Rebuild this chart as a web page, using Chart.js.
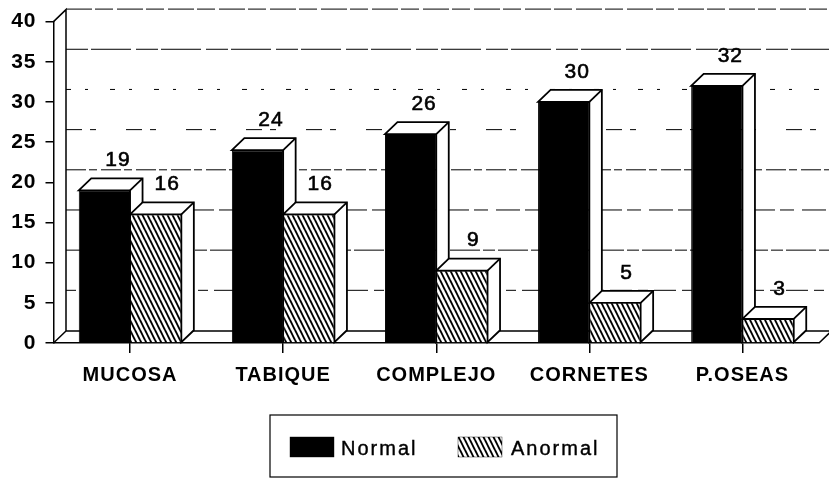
<!DOCTYPE html>
<html>
<head>
<meta charset="utf-8">
<style>html,body{margin:0;padding:0;background:#fff}canvas{display:block}</style>
<script src="https://cdn.jsdelivr.net/npm/chart.js@4/dist/chart.umd.js"></script>
</head>
<body>
<div style="width:829px;height:478px"><canvas id="c" width="829" height="478"></canvas></div>
<script>
const categories = ["MUCOSA", "TABIQUE", "COMPLEJO", "CORNETES", "P.OSEAS"];
const normalValues = [19, 24, 26, 30, 32];
const anormalValues = [16, 16, 9, 5, 3];
const seriesNames = ["Normal", "Anormal"];

const DEPTH_X = 12.5, DEPTH_Y = 12;
const FONT = '"Liberation Sans", Arial, sans-serif';

function hatch() {
  const t = document.createElement('canvas');
  t.width = 5; t.height = 10;
  const g = t.getContext('2d');
  g.fillStyle = '#fff'; g.fillRect(0, 0, 5, 10);
  g.strokeStyle = '#000'; g.lineWidth = 1.9;
  for (const o of [-5, 0, 5]) {
    g.beginPath(); g.moveTo(o, 0); g.lineTo(o + 5, 10); g.stroke();
    g.beginPath(); g.moveTo(o, -10); g.lineTo(o + 5, 0); g.stroke();
    g.beginPath(); g.moveTo(o, 10); g.lineTo(o + 5, 20); g.stroke();
  }
  return t.getContext('2d').createPattern(t, 'repeat');
}
const hatchFill = hatch();

const wallDash = {40:[26,3,18,4], 35:[22,3,40,5], 30:[5,14,3,22], 25:[16,8,6,30], 20:[20,3,8,4], 15:[14,8,24,5], 10:[30,3,12,3], 5:[10,6,22,6]};

const threeD = {
  id: 'threeD',
  beforeDraw(chart) { chart.ctx.letterSpacing = '1px'; },
  beforeDatasetsDraw(chart) {
    const {ctx, chartArea: a, scales: {y}} = chart;
    const zero = y.getPixelForValue(0), top = y.getPixelForValue(40);
    ctx.save();
    ctx.letterSpacing = '0px';
    ctx.strokeStyle = '#000';
    // back wall grid lines
    ctx.lineWidth = 1;
    y.ticks.forEach(t => {
      if (t.value === 0) return;
      const py = y.getPixelForValue(t.value) - DEPTH_Y - 0.5;
      ctx.setLineDash(wallDash[t.value] || [8, 4]);
      ctx.beginPath(); ctx.moveTo(a.left + DEPTH_X, py); ctx.lineTo(a.right + DEPTH_X, py); ctx.stroke();
    });
    ctx.setLineDash([]);
    ctx.lineWidth = 1.5;
    ctx.beginPath();
    ctx.moveTo(a.left, top); ctx.lineTo(a.left + DEPTH_X, top - DEPTH_Y);
    ctx.lineTo(a.left + DEPTH_X, zero - DEPTH_Y); ctx.lineTo(a.right + DEPTH_X, zero - DEPTH_Y);
    ctx.lineTo(a.right, zero);
    ctx.moveTo(a.left, zero); ctx.lineTo(a.left + DEPTH_X, zero - DEPTH_Y);
    ctx.stroke();
    // bar depth faces
    [0, 1].forEach(i => {
      chart.getDatasetMeta(i).data.forEach(b => {
        const l = b.x - b.width / 2, r = b.x + b.width / 2, t = b.y, bt = b.base;
        ctx.fillStyle = '#fff';
        ctx.lineWidth = 1.8;
        ctx.beginPath();
        ctx.moveTo(l, t); ctx.lineTo(l + DEPTH_X, t - DEPTH_Y); ctx.lineTo(r + DEPTH_X, t - DEPTH_Y);
        ctx.lineTo(r + DEPTH_X, bt - DEPTH_Y); ctx.lineTo(r, bt); ctx.lineTo(r, t); ctx.closePath();
        ctx.fill(); ctx.stroke();
        ctx.beginPath(); ctx.moveTo(r, t); ctx.lineTo(r + DEPTH_X, t - DEPTH_Y); ctx.stroke();
      });
    });
    ctx.restore();
  },
  afterDatasetsDraw(chart) {
    const {ctx} = chart;
    ctx.save();
    ctx.letterSpacing = '1px';
    ctx.fillStyle = '#000';
    ctx.font = '21px ' + FONT;
    ctx.lineWidth = 0.6; ctx.strokeStyle = '#000';
    ctx.textAlign = 'center'; ctx.textBaseline = 'middle';
    chart.data.datasets.forEach((ds, i) => {
      chart.getDatasetMeta(i).data.forEach((b, j) => {
        const s = String(ds.data[j]);
        const px = b.x + DEPTH_X + (i ? -1 : 1), py = b.y - 30;
        ctx.fillText(s, px, py); ctx.strokeText(s, px, py);
      });
    });
    // legend
    const box = {l: 270, t: 415, r: 617, b: 477};
    ctx.lineWidth = 1.2;
    ctx.strokeRect(box.l, box.t, box.r - box.l, box.b - box.t);
    const sw = [{x: 290, tx: 341}, {x: 458, tx: 511}];
    ctx.letterSpacing = '2px';
    ctx.textAlign = 'left';
    ctx.font = '20px ' + FONT;
    ctx.lineWidth = 0.4;
    chart.data.datasets.forEach((ds, i) => {
      ctx.fillStyle = ds.backgroundColor;
      ctx.fillRect(sw[i].x, 437, 44, 20);
      ctx.strokeRect(sw[i].x, 437, 44, 20);
      ctx.fillStyle = '#000';
      ctx.fillText(ds.label, sw[i].tx, 449);
      ctx.strokeText(ds.label, sw[i].tx, 449);
    });
    ctx.restore();
  }
};

new Chart(document.getElementById('c'), {
  type: 'bar',
  data: {
    labels: categories,
    datasets: [
      {label: seriesNames[0], data: normalValues, backgroundColor: '#000', borderColor: '#000', borderWidth: 1},
      {label: seriesNames[1], data: anormalValues, backgroundColor: hatchFill, borderColor: '#000', borderWidth: 1}
    ]
  },
  plugins: [threeD],
  options: {
    responsive: false,
    animation: false,
    layout: {padding: {top: 20, right: 10, left: 0, bottom: 0}},
    plugins: {legend: {display: false}, tooltip: {enabled: false}},
    datasets: {bar: {categoryPercentage: 0.67, barPercentage: 1}},
    scales: {
      x: {
        afterFit(s) { s.height = 135; },
        grid: {offset: false, drawOnChartArea: false, drawTicks: true, tickLength: 10, color: '#000', lineWidth: 1.5},
        border: {color: '#000', width: 1.5},
        ticks: {color: '#000', font: {family: FONT, size: 20, weight: 'bold'}, padding: 10, maxRotation: 0, autoSkip: false}
      },
      y: {
        min: 0, max: 40,
        afterFit(s) { s.width = 53.5; },
        grid: {drawOnChartArea: false, drawTicks: true, tickLength: 8, color: '#000', lineWidth: 1.5},
        border: {color: '#000', width: 1.5},
        ticks: {stepSize: 5, color: '#000', font: {family: FONT, size: 21, weight: 'bold'}, padding: 9}
      }
    }
  }
});
</script>
</body>
</html>
